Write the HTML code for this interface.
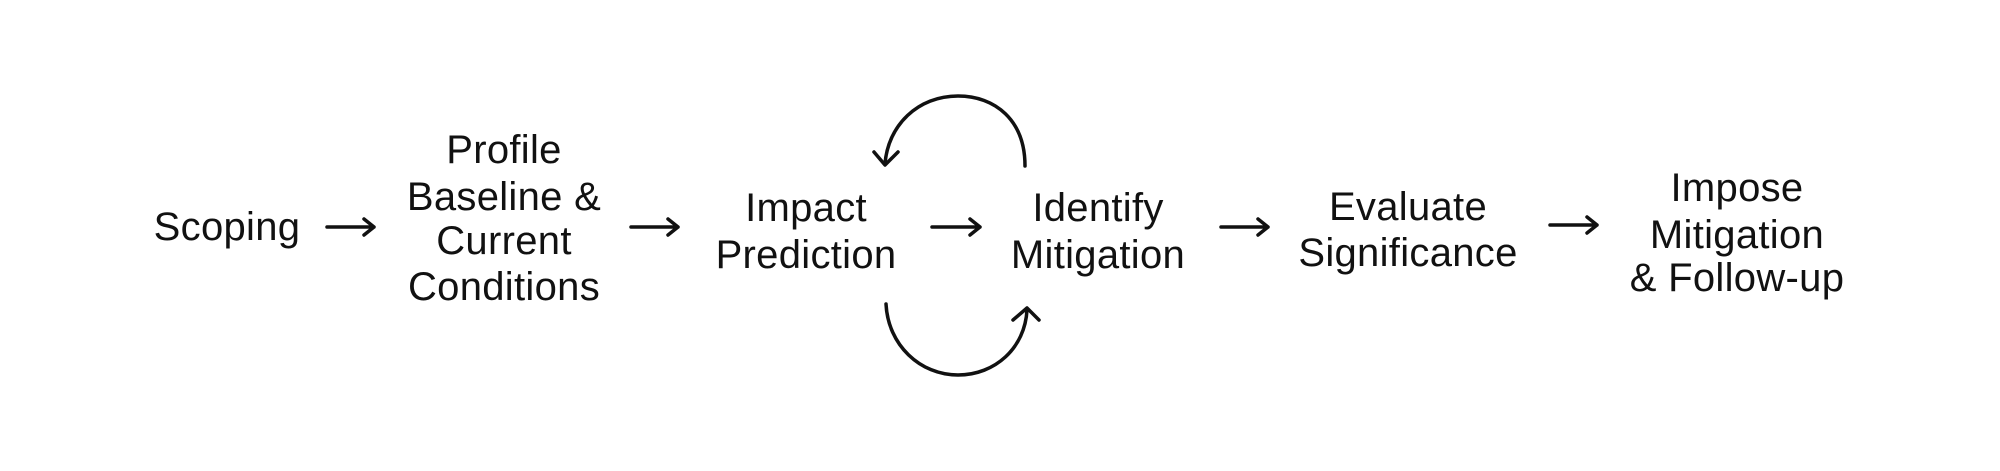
<!DOCTYPE html>
<html><head><meta charset="utf-8"><style>
html,body{margin:0;padding:0;background:#fff;}
svg{display:block;}
text{font-family:"Liberation Sans",sans-serif;font-size:40px;fill:#111;text-anchor:middle;dominant-baseline:central;letter-spacing:0.3px;}
</style></head><body>
<svg width="2000" height="471" viewBox="0 0 2000 471" xmlns="http://www.w3.org/2000/svg">
<g stroke="#111" stroke-width="3.5" fill="none" stroke-linecap="round" stroke-linejoin="round">
<path d="M327 227 H374 M364 219 L374 227 L364 235"/>
<path d="M631 227 H678 M668 219 L678 227 L668 235"/>
<path d="M932 227 H980 M970 219 L980 227 L970 235"/>
<path d="M1221 227 H1268 M1258 219 L1268 227 L1258 235"/>
<path d="M1550 225 H1597 M1587 217 L1597 225 L1587 233"/>
<path d="M1025 166 C1025 120 995 96 958 96 C918 96 888 125 885 164"/>
<path d="M874 152 L885 165 L898 152"/>
<path d="M886 304 C888 345 920 375 958 375 C995 375 1025 348 1027 310"/>
<path d="M1013 320 L1027 308 L1039 320"/>
</g>
<text x="227" y="227">Scoping</text>
<text x="504" y="150">Profile</text>
<text x="504" y="197">Baseline &amp;</text>
<text x="504" y="241">Current</text>
<text x="504" y="287">Conditions</text>
<text x="806" y="208">Impact</text>
<text x="806" y="255">Prediction</text>
<text x="1098" y="208">Identify</text>
<text x="1098" y="255">Mitigation</text>
<text x="1408" y="207">Evaluate</text>
<text x="1408" y="253">Significance</text>
<text x="1737" y="188">Impose</text>
<text x="1737" y="235">Mitigation</text>
<text x="1737" y="278">&amp; Follow-up</text>
</svg>
</body></html>
